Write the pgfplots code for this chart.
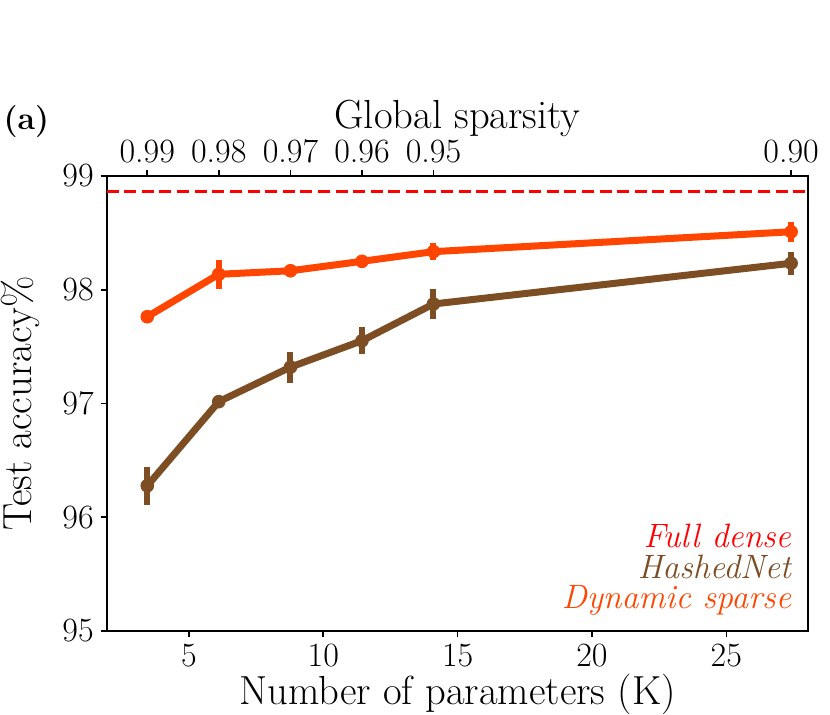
\documentclass[border=0pt]{standalone}
\usepackage{fontspec}
\usepackage{pgfplots}
\pgfplotsset{compat=1.18}
\definecolor{dynor}{RGB}{255,69,0}
\definecolor{hashbr}{RGB}{125,78,36}
\definecolor{fullred}{RGB}{255,0,0}
\pgfplotstableread{
x y e
3.45 97.763 0.02
6.11 98.136 0.126
8.78 98.167 0.03
11.44 98.250 0.03
14.10 98.335 0.073
27.41 98.510 0.09
}\dynsparse
\pgfplotstableread{
x y e
3.45 96.277 0.167
6.11 97.016 0.04
8.78 97.320 0.136
11.44 97.552 0.12
14.10 97.875 0.13
27.41 98.233 0.10
}\hashnet
\newcommand{\tickfont}{\fontsize{17}{20}\selectfont}
\newcommand{\labfont}{\fontsize{20.3}{24}\selectfont}
\begin{document}
\begin{tikzpicture}
\useasboundingbox (-53.35pt,-41.5pt) rectangle (361.65pt,315.5pt);
\begin{axis}[
  scale only axis, width=350.8pt, height=227.5pt,
  xmin=1.94, xmax=28.05, ymin=95, ymax=99,
  xtick={5,10,15,20,25}, ytick={95,96,97,98,99},
  xtick pos=bottom, ytick pos=left,
  tick align=outside, major tick length=3pt,
  tick style={black, line width=0.8pt},
  axis line style={line width=0.85pt},
  /pgf/number format/assume math mode=true,
  ticklabel style={font=\tickfont},
  xlabel={Number of parameters (K)},
  ylabel={Test accuracy\%},
  label style={font=\labfont},
  xlabel style={at={(axis description cs:0.5,-0.1626)}, anchor=base},
  ylabel style={at={(axis description cs:-0.1236,0.5)}, anchor=center},
  clip=false,
]
\addplot[fullred, line width=1.5pt, dash pattern=on 6pt off 2.8pt] coordinates {(1.94,98.86) (28.05,98.86)};
\addplot[hashbr, line width=3.5pt, mark=*, mark size=3.2pt, mark options={solid, line width=0.4pt},
  error bars/.cd, y dir=both, y explicit, error mark=none,
  error bar style={line width=3pt}] table[x=x, y=y, y error=e] {\hashnet};
\addplot[dynor, line width=3.5pt, mark=*, mark size=3.2pt, mark options={solid, line width=0.4pt},
  error bars/.cd, y dir=both, y explicit, error mark=none,
  error bar style={line width=3pt}] table[x=x, y=y, y error=e] {\dynsparse};
\node[anchor=base east, inner sep=0pt, text=fullred, font=\itshape\fontsize{16.9}{20}\selectfont] at (axis cs:27.42,95.73) {Full dense};
\node[anchor=base east, inner sep=0pt, text=hashbr, font=\itshape\fontsize{16.9}{20}\selectfont] at (axis cs:27.42,95.466) {HashedNet};
\node[anchor=base east, inner sep=0pt, text=dynor, font=\itshape\fontsize{16.9}{20}\selectfont] at (axis cs:27.42,95.20) {Dynamic sparse};
\end{axis}
\begin{axis}[
  scale only axis, width=350.8pt, height=227.5pt,
  xmin=1.94, xmax=28.05, ymin=95, ymax=99,
  axis x line*=top, axis y line=none,
  xtick={3.45,6.11,8.78,11.44,14.10,27.41},
  xticklabels={0.99,0.98,0.97,0.96,0.95,0.90},
  tick align=outside, major tick length=3pt,
  tick style={black, line width=0.8pt},
  axis line style={line width=0.85pt},
  ticklabel style={font=\tickfont},
  xlabel={Global sparsity},
  label style={font=\labfont},
  xlabel style={at={(axis description cs:0.5,1.1055)}, anchor=base},
]
\end{axis}
\node[anchor=base west, inner sep=0pt, font=\bfseries\fontsize{16}{19}\selectfont] at (-51.7pt,251pt) {(a)};
\end{tikzpicture}
\end{document}
